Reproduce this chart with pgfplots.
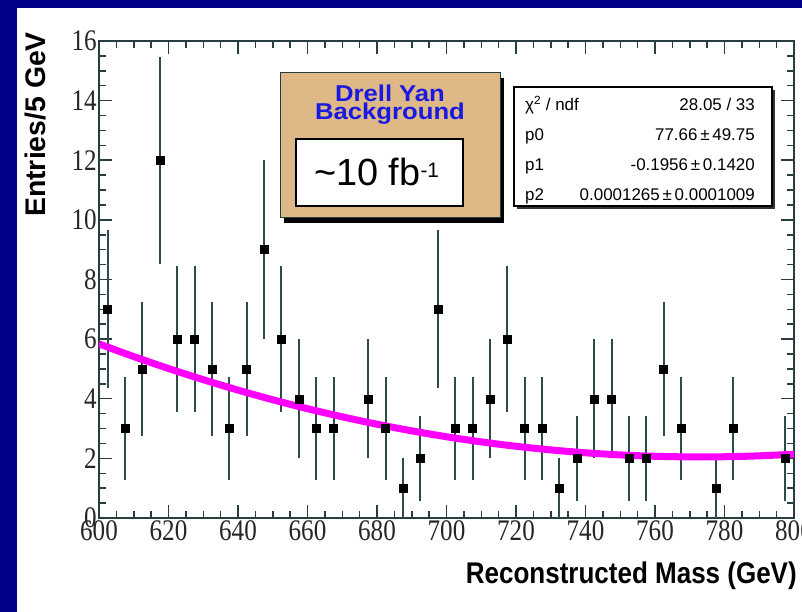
\documentclass[border=0pt]{standalone}
\usepackage{pgfplots}
\pgfplotsset{compat=1.18}
\usepackage{pgfplotstable}
\usepackage{fontspec}
\setmainfont{Liberation Serif}
\newfontfamily\tickfamily{Liberation Serif}[FakeStretch=0.84]
\newfontfamily\xtitlefamily{Liberation Sans}[FakeStretch=0.87]
\newfontfamily\sansfamily{Liberation Sans}
\newfontfamily\boxfamily{Liberation Sans}[FakeStretch=1.12]
\newcommand\ticklabfont{\tickfamily\fontsize{30}{30}\selectfont}

\definecolor{framebg}{RGB}{0,0,139}
\definecolor{axisgray}{RGB}{40,62,62}
\definecolor{errcol}{RGB}{45,75,75}
\definecolor{tanbox}{RGB}{222,184,135}
\definecolor{titleblue}{RGB}{25,25,225}
\definecolor{fitmag}{RGB}{255,0,255}

\pgfplotstableread{
x y e
602.5 7 2.646
607.5 3 1.732
612.5 5 2.236
617.5 12 3.464
622.5 6 2.449
627.5 6 2.449
632.5 5 2.236
637.5 3 1.732
642.5 5 2.236
647.5 9 3.000
652.5 6 2.449
657.5 4 2.000
662.5 3 1.732
667.5 3 1.732
677.5 4 2.000
682.5 3 1.732
687.5 1 1.000
692.5 2 1.414
697.5 7 2.646
702.5 3 1.732
707.5 3 1.732
712.5 4 2.000
717.5 6 2.449
722.5 3 1.732
727.5 3 1.732
732.5 1 1.000
737.5 2 1.414
742.5 4 2.000
747.5 4 2.000
752.5 2 1.414
757.5 2 1.414
762.5 5 2.236
767.5 3 1.732
777.5 1 1.000
782.5 3 1.732
797.5 2 1.414
}\datatable

\pgfplotstableread{
x f
600 5.840
610 5.415
620 5.015
630 4.640
640 4.290
650 3.966
660 3.667
670 3.394
680 3.146
690 2.923
700 2.725
710 2.553
720 2.406
730 2.284
740 2.187
750 2.116
760 2.070
770 2.050
780 2.055
790 2.085
800 2.140
}\fittable

\begin{document}
\begin{tikzpicture}
\clip (0bp,0bp) rectangle (802bp,612bp);
\fill[framebg] (0bp,0bp) rectangle (802bp,612bp);
\fill[white] (17bp,0bp) rectangle (802bp,604bp);
\begin{axis}[
  at={(99bp,94bp)}, anchor=south west,
  width=695bp, height=477bp, scale only axis,
  xmin=600, xmax=800, ymin=0, ymax=16,
  xtick={600,620,...,800}, ytick={0,2,...,16},
  minor x tick num=3, minor y tick num=3,
  tick align=inside,
  xtick pos=both, ytick pos=both,
  xticklabel pos=lower, yticklabel pos=left,
  major tick length=13bp, minor tick length=7bp,
  axis line style={axisgray, line width=1.5bp},
  tick style={axisgray, line width=1.5bp},
  /pgf/number format/assume math mode=true,
  /pgf/number format/1000 sep={},
  xticklabel style={font=\ticklabfont, inner sep=2bp, anchor=north, text=black!85},
  yticklabel style={font=\ticklabfont, inner sep=2bp, anchor=east, text=black!85},
  xlabel={Reconstructed Mass (GeV)},
  xlabel style={font=\xtitlefamily\bfseries\fontsize{30}{30}\selectfont, inner sep=0pt,
    at={(axis description cs:1.0043,-0.1363)}, anchor=base east},
  ylabel={Entries/5 GeV},
  ylabel style={font=\sansfamily\bfseries\fontsize{28.5}{28.5}\selectfont, inner sep=0pt,
    at={(axis description cs:-0.092,1.019)}, anchor=east},
]
\addplot[only marks, mark=square*, mark size=4bp, black,
  error bars/.cd, y dir=both, y explicit,
  error bar style={errcol, line width=2bp}, error mark=none]
  table[x=x, y=y, y error=e]{\datatable};
\addplot[fitmag, line width=7bp, smooth, no marks] table[x=x, y=f]{\fittable};
\end{axis}
% Drell-Yan label box
\fill[black] (284bp,389bp) rectangle (504bp,534bp);
\filldraw[fill=tanbox, draw=axisgray, line width=1bp] (280bp,394bp) rectangle (500bp,539bp);
\node[anchor=center, inner sep=0pt, align=center, text=titleblue, font=\boxfamily\bfseries\fontsize{23}{18.3}\selectfont] at (390bp,507.2bp) {Drell Yan\\Background};
\filldraw[fill=white, draw=black, line width=1.5bp] (296bp,406bp) rectangle (463bp,473bp);
\node[anchor=base west, inner sep=0pt, font=\sansfamily\fontsize{38}{38}\selectfont] at (314bp,426bp) {{\char"7E}10 fb\raisebox{8bp}{\fontsize{21}{21}\selectfont -1}};
% statistics box
\fill[black!80] (517bp,403bp) rectangle (775bp,522bp);
\filldraw[fill=white, draw=black, line width=1.2bp] (514bp,406bp) rectangle (772bp,525bp);
\begin{scope}[every node/.style={inner sep=0pt, font=\sansfamily\fontsize{17}{17}\selectfont, text=black}]
\node[anchor=base west] at (525bp,501bp) {χ\textsuperscript{2} / ndf};
\node[anchor=base east] at (755bp,501bp) {28.05 / 33};
\node[anchor=base west] at (525bp,471bp) {p0};
\node[anchor=base east] at (755bp,471bp) {77.66\,±\,49.75};
\node[anchor=base west] at (525bp,441bp) {p1};
\node[anchor=base east] at (755bp,441bp) {-0.1956\,±\,0.1420};
\node[anchor=base west] at (525bp,411bp) {p2};
\node[anchor=base east] at (755bp,411bp) {0.0001265\,±\,0.0001009};
\end{scope}
\end{tikzpicture}
\end{document}
